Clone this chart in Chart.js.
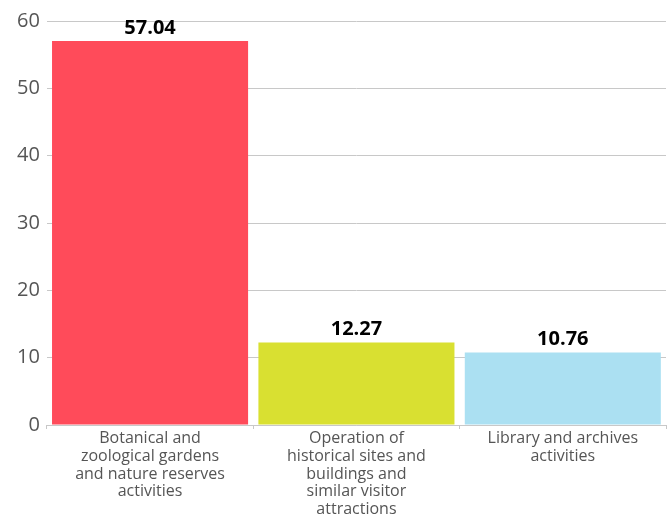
<!DOCTYPE html>
<html><head><meta charset="utf-8">
<script src="https://cdn.jsdelivr.net/npm/chart.js@4"></script>
<style>html,body{margin:0;padding:0;background:#fff}#wrap{width:672px;height:519px}</style>
</head><body><div id="wrap"><canvas id="c"></canvas></div>
<script>
const categories = [
  ["Botanical and", "zoological gardens", "and nature reserves", "activities"],
  ["Operation of", "historical sites and", "buildings and", "similar visitor", "attractions"],
  ["Library and archives", "activities"]
];
const values = [57.04, 12.27, 10.76];
const barColors = ["#FF4B5A", "#D9E031", "#ABE0F2"];
const yTicks = [0, 10, 20, 30, 40, 50, 60];

const valueLabels = {
  id: 'valueLabels',
  afterDatasetsDraw(chart) {
    const ctx = chart.ctx;
    const meta = chart.getDatasetMeta(0);
    ctx.save();
    ctx.font = 'bold 20px "Open Sans", sans-serif';
    ctx.fillStyle = '#000';
    ctx.textAlign = 'center';
    ctx.textBaseline = 'bottom';
    meta.data.forEach((bar, i) => {
      ctx.fillText(values[i].toFixed(2), bar.x, bar.y - 3);
    });
    ctx.restore();
  }
};

new Chart(document.getElementById('c'), {
  type: 'bar',
  data: {
    labels: categories,
    datasets: [{ data: values, backgroundColor: barColors, borderWidth: 0,
      categoryPercentage: 0.95, barPercentage: 1.0 }]
  },
  options: {
    responsive: true, maintainAspectRatio: false, animation: false,
    layout: { padding: { top: 21, right: 6, left: 10, bottom: 0 } },
    plugins: { legend: { display: false }, tooltip: { enabled: false } },
    scales: {
      x: {
        grid: { drawOnChartArea: false, drawTicks: true, tickLength: 4, color: '#c8c8c8' },
        border: { display: true, color: '#c8c8c8', width: 1 },
        offset: true,
        ticks: { color: '#555', font: { family: '"Open Sans", sans-serif', size: 16, lineHeight: 1.1 }, maxRotation: 0, autoSkip: false, padding: 1 }
      },
      y: {
        min: 0, max: 60,
        afterBuildTicks(axis) { axis.ticks = yTicks.map(v => ({ value: v })); },
        grid: { color: '#c8c8c8', drawTicks: false },
        border: { display: false },
        ticks: { color: '#555', font: { family: '"Open Sans", sans-serif', size: 20 }, padding: 7 }
      }
    }
  },
  plugins: [valueLabels]
});
</script></body></html>
